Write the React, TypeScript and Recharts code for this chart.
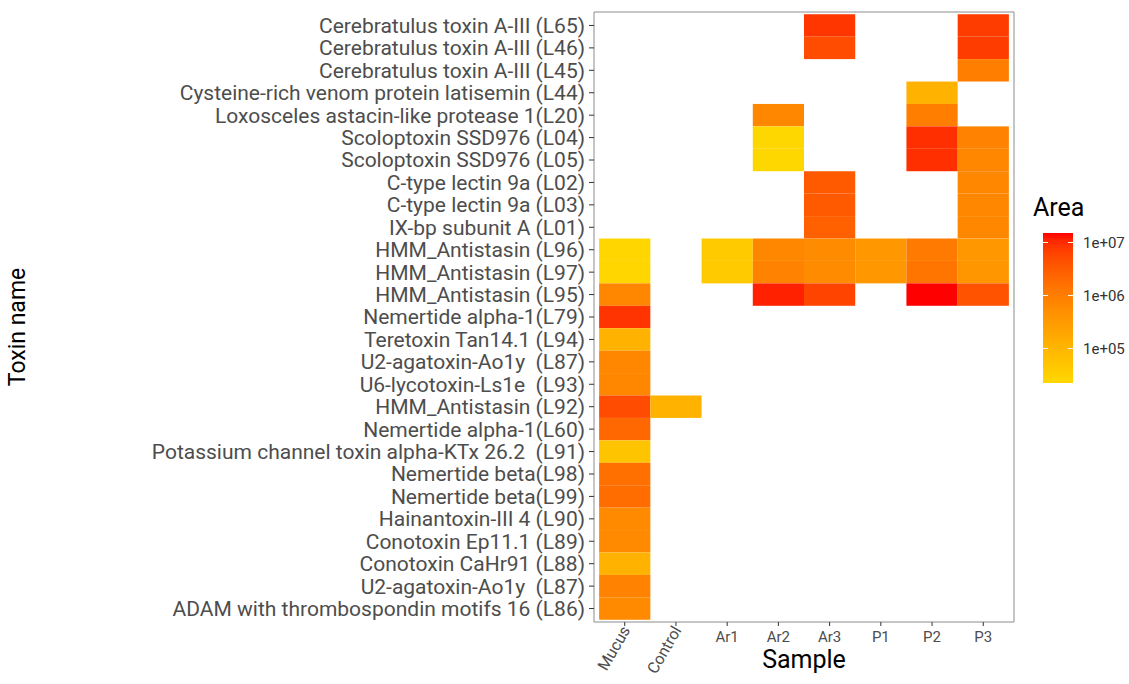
import React from "react";
import { ScatterChart, Scatter, XAxis, YAxis, ReferenceArea } from "recharts";

const samples = ["Mucus", "Control", "Ar1", "Ar2", "Ar3", "P1", "P2", "P3"];

const toxins = [
  "Cerebratulus toxin A-III (L65)",
  "Cerebratulus toxin A-III (L46)",
  "Cerebratulus toxin A-III (L45)",
  "Cysteine-rich venom protein latisemin (L44)",
  "Loxosceles astacin-like protease 1(L20)",
  "Scoloptoxin SSD976 (L04)",
  "Scoloptoxin SSD976 (L05)",
  "C-type lectin 9a (L02)",
  "C-type lectin 9a (L03)",
  "IX-bp subunit A (L01)",
  "HMM_Antistasin (L96)",
  "HMM_Antistasin (L97)",
  "HMM_Antistasin (L95)",
  "Nemertide alpha-1(L79)",
  "Teretoxin Tan14.1 (L94)",
  "U2-agatoxin-Ao1y  (L87)",
  "U6-lycotoxin-Ls1e  (L93)",
  "HMM_Antistasin (L92)",
  "Nemertide alpha-1(L60)",
  "Potassium channel toxin alpha-KTx 26.2  (L91)",
  "Nemertide beta(L98)",
  "Nemertide beta(L99)",
  "Hainantoxin-III 4 (L90)",
  "Conotoxin Ep11.1 (L89)",
  "Conotoxin CaHr91 (L88)",
  "U2-agatoxin-Ao1y  (L87)",
  "ADAM with thrombospondin motifs 16 (L86)",
];

const _ = null;
// peak area per toxin row (top to bottom), one list per sample
const mucusArea = [_, _, _, _, _, _, _, _, _, _, 24000, 24000, 716000, 8.7e6, 116000, 716000, 716000, 5.0e6, 2.16e6, 53300, 1.66e6, 1.9e6, 620000, 620000, 116000, 815000, 620000];
const controlArea = [_, _, _, _, _, _, _, _, _, _, _, _, _, _, _, _, _, 116000, _, _, _, _, _, _, _, _, _];
const ar1Area = [_, _, _, _, _, _, _, _, _, _, 38500, 38500, _, _, _, _, _, _, _, _, _, _, _, _, _, _, _];
const ar2Area = [_, _, _, _, 716000, 22900, 22900, _, _, _, 716000, 815000, 1.17e7, _, _, _, _, _, _, _, _, _, _, _, _, _, _];
const ar3Area = [8.4e6, 5.0e6, _, _, _, _, _, 3.4e6, 3.4e6, 2.8e6, 589000, 589000, 6.1e6, _, _, _, _, _, _, _, _, _, _, _, _, _, _];
const p1Area = [_, _, _, _, _, _, _, _, _, _, 350000, 350000, _, _, _, _, _, _, _, _, _, _, _, _, _, _, _];
const p2Area = [_, _, _, 116000, 990000, 9.6e6, 9.6e6, _, _, _, 1.13e6, 1.37e6, 1.51e7, _, _, _, _, _, _, _, _, _, _, _, _, _, _];
const p3Area = [7.4e6, 7.4e6, 990000, _, _, 815000, 716000, 716000, 716000, 716000, 350000, 380000, 4.13e6, _, _, _, _, _, _, _, _, _, _, _, _, _, _];

const areaBySample = [mucusArea, controlArea, ar1Area, ar2Area, ar3Area, p1Area, p2Area, p3Area];
const legendTicks = [1e5, 1e6, 1e7];

const cells: { x: number; y: number; area: number }[] = [];
areaBySample.forEach((col, x) =>
  col.forEach((area, y) => {
    if (area != null) cells.push({ x, y, area });
  })
);

const logs = cells.map((c) => Math.log10(c.area));
const LOG_MIN = Math.min(...logs);
const LOG_MAX = Math.max(...logs);

// gold -> red, interpolated in Lab like ggplot's scale_fill_gradient
const LOW = [255, 215, 0];
const HIGH = [255, 0, 0];
const lin = (c: number) => {
  c /= 255;
  return c <= 0.04045 ? c / 12.92 : Math.pow((c + 0.055) / 1.055, 2.4);
};
const f = (t: number) => (t > 0.008856 ? Math.cbrt(t) : 7.787 * t + 16 / 116);
const finv = (t: number) => (t * t * t > 0.008856 ? t * t * t : (t - 16 / 116) / 7.787);
function toLab([r, g, b]: number[]) {
  const R = lin(r), G = lin(g), B = lin(b);
  const X = (0.4124 * R + 0.3576 * G + 0.1805 * B) / 0.95047;
  const Y = 0.2126 * R + 0.7152 * G + 0.0722 * B;
  const Z = (0.0193 * R + 0.1192 * G + 0.9505 * B) / 1.08883;
  return [116 * f(Y) - 16, 500 * (f(X) - f(Y)), 200 * (f(Y) - f(Z))];
}
function fromLab([L, a, b]: number[]) {
  const fy = (L + 16) / 116;
  const X = 0.95047 * finv(a / 500 + fy);
  const Y = finv(fy);
  const Z = 1.08883 * finv(fy - b / 200);
  const rgb = [
    3.2406 * X - 1.5372 * Y - 0.4986 * Z,
    -0.9689 * X + 1.8758 * Y + 0.0415 * Z,
    0.0557 * X - 0.204 * Y + 1.057 * Z,
  ].map((c) => {
    const v = c <= 0.0031308 ? 12.92 * c : 1.055 * Math.pow(c, 1 / 2.4) - 0.055;
    return Math.round(Math.max(0, Math.min(1, v)) * 255);
  });
  return `rgb(${rgb[0]},${rgb[1]},${rgb[2]})`;
}
const LAB_LO = toLab(LOW);
const LAB_HI = toLab(HIGH);
function colorAt(t: number) {
  return fromLab(LAB_LO.map((v, i) => v + (LAB_HI[i] - v) * t));
}
const areaColor = (area: number) => colorAt((Math.log10(area) - LOG_MIN) / (LOG_MAX - LOG_MIN));

const W = 1129;
const H = 684;
const M = { top: 12, right: 115, bottom: 0, left: 0 };
const Y_AXIS_W = 594;
const X_AXIS_H = 62;
const PLOT_W = W - M.left - M.right - Y_AXIS_W;
const PLOT_H = H - M.top - X_AXIS_H;
const X_DOM: [number, number] = [-0.6, samples.length - 0.4];
const Y_DOM: [number, number] = [-0.6, toxins.length - 0.4];
const CELL_W = PLOT_W / (X_DOM[1] - X_DOM[0]);
const CELL_H = PLOT_H / (Y_DOM[1] - Y_DOM[0]);

const FONT = "Roboto, 'DejaVu Sans', sans-serif";
const TICK_GREY = "#4d4d4d";

function Tile(props: any) {
  const { cx, cy, payload } = props;
  return (
    <rect
      x={cx - CELL_W / 2}
      y={cy - CELL_H / 2}
      width={CELL_W}
      height={CELL_H}
      fill={areaColor(payload.area)}
    />
  );
}

function SampleTick(props: any) {
  const { x, y, payload } = props;
  const label = samples[payload.value];
  if (payload.value < 2) {
    const ax = x + 6;
    const ay = y + 3;
    return (
      <text
        x={ax}
        y={ay}
        textAnchor="end"
        transform={`rotate(-60 ${ax} ${ay})`}
        fontSize={16}
        fontFamily={FONT}
        fill={TICK_GREY}
      >
        {label}
      </text>
    );
  }
  return (
    <text x={x} y={y + 15} textAnchor="middle" fontSize={15} fontFamily={FONT} fill={TICK_GREY}>
      {label}
    </text>
  );
}

function Legend() {
  const barTop = 233;
  const barH = 150;
  const stops = Array.from({ length: 21 }, (_, i) => `${colorAt(1 - i / 20)} ${i * 5}%`).join(", ");
  const yOf = (v: number) => barTop + barH * (1 - (Math.log10(v) - LOG_MIN) / (LOG_MAX - LOG_MIN));
  return (
    <div style={{ position: "absolute", left: 0, top: 0, width: W, height: H, pointerEvents: "none", fontFamily: FONT }}>
      <div style={{ position: "absolute", left: 1033, top: 193, fontSize: 25, color: "#000" }}>Area</div>
      <div
        style={{
          position: "absolute",
          left: 1043,
          top: barTop,
          width: 30,
          height: barH,
          background: `linear-gradient(to bottom, ${stops})`,
        }}
      />
      {legendTicks.map((v) => (
        <React.Fragment key={v}>
          <div style={{ position: "absolute", left: 1043, top: yOf(v) - 0.5, width: 5, height: 1, background: "#fff" }} />
          <div style={{ position: "absolute", left: 1068, top: yOf(v) - 0.5, width: 5, height: 1, background: "#fff" }} />
          <div style={{ position: "absolute", left: 1083, top: yOf(v) - 9, fontSize: 15, color: "#333", lineHeight: "18px" }}>
            {v.toExponential().replace("e+", "e+0")}
          </div>
        </React.Fragment>
      ))}
    </div>
  );
}

export default function App() {
  return (
    <div style={{ position: "absolute", left: 0, top: 0, width: W, height: H, background: "#fff" }}>
      <ScatterChart width={W} height={H} margin={M}>
        <XAxis
          type="number"
          dataKey="x"
          domain={X_DOM}
          ticks={samples.map((_, i) => i)}
          interval={0}
          axisLine={false}
          tickSize={4}
          tickMargin={1}
          tickLine={{ stroke: "#333" }}
          height={X_AXIS_H}
          tick={<SampleTick />}
          label={{
            content: () => (
              <text x={M.left + Y_AXIS_W + PLOT_W / 2} y={668} textAnchor="middle" fontSize={25} fontFamily={FONT} fill="#000">
                Sample
              </text>
            ),
          }}
        />
        <YAxis
          type="number"
          dataKey="y"
          domain={Y_DOM}
          reversed
          ticks={toxins.map((_, i) => i)}
          interval={0}
          width={Y_AXIS_W}
          axisLine={false}
          tickSize={5}
          tickMargin={4}
          tickLine={{ stroke: "#333" }}
          tickFormatter={(v: number) => toxins[v].replace(/  /g, "\u00a0 ")}
          tick={{ fontSize: 21, fontFamily: FONT, fill: TICK_GREY }}
          label={{
            content: () => (
              <text x={25} y={327} textAnchor="middle" transform="rotate(-90 25 327)" fontSize={23} fontFamily={FONT} fill="#000">
                Toxin name
              </text>
            ),
          }}
        />
        <Scatter data={cells} shape={<Tile />} isAnimationActive={false} />
        <ReferenceArea x1={X_DOM[0]} x2={X_DOM[1]} y1={Y_DOM[0]} y2={Y_DOM[1]} fill="none" stroke="#8c8c8c" strokeWidth={1} />
      </ScatterChart>
      <Legend />
    </div>
  );
}
